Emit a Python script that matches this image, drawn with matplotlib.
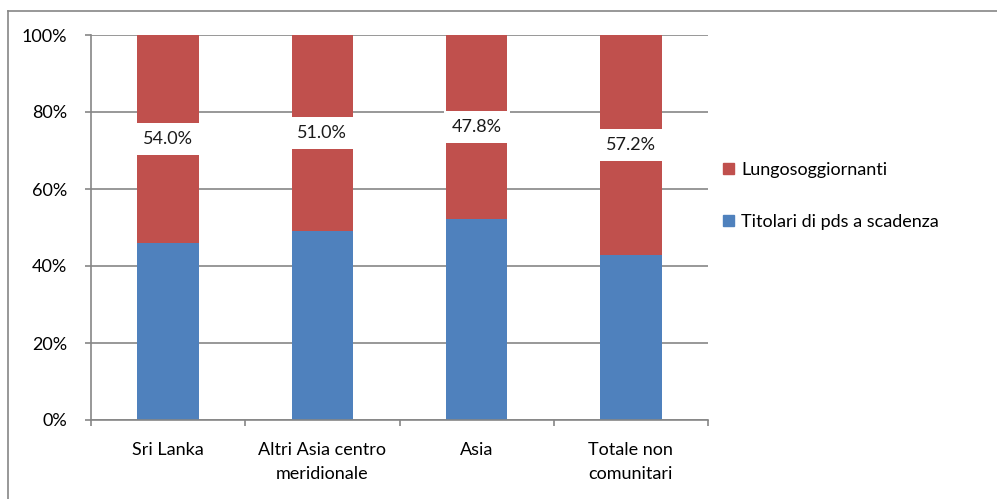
import numpy as np
import matplotlib.pyplot as plt
from matplotlib.lines import Line2D
from matplotlib.patches import Patch

plt.rcParams['font.family'] = ['Lato', 'DejaVu Sans']

#dati
categorie = ['Sri Lanka', 'Altri Asia centro\nmeridionale', 'Asia', 'Totale non\ncomunitari']
titolari = [46.0, 49.0, 52.2, 42.8]
lungo = [54.0, 51.0, 47.8, 57.2]
etichette = ['54.0%', '51.0%', '47.8%', '57.2%']

blu = '#4F81BD'
rosso = '#C0504D'
grigio = '#868686'
fs = 13

fig = plt.figure(figsize=(9.97, 4.99), dpi=100)
ax = fig.add_axes([91/997, 1-420/499, (708-91)/997, (420-35)/499])

x = np.arange(len(categorie))
w = 0.40
ax.bar(x, titolari, w, color=blu, zorder=2)
ax.bar(x, lungo, w, bottom=titolari, color=rosso, zorder=2)

# etichette con sfondo bianco al centro della parte rossa
for i in range(len(x)):
    ax.text(x[i], titolari[i] + lungo[i]/2, etichette[i], ha='center', va='center',
            fontsize=fs, color='#1a1a1a', zorder=3,
            bbox=dict(boxstyle='square,pad=0.45', fc='white', ec='none'))

ax.set_xlim(-0.5, len(x) - 0.5)
ax.set_ylim(0, 100)
ax.set_yticks(np.arange(0, 101, 20))
ax.set_yticklabels(['%d%%' % v for v in np.arange(0, 101, 20)])
ax.yaxis.grid(True, color=grigio, linewidth=1.2, zorder=0)
ax.set_axisbelow(True)

ax.set_xticks(x)
ax.set_xticklabels(categorie, linespacing=1.6)
ax.set_xticks(np.arange(-0.5, len(x), 1), minor=True)
ax.tick_params(axis='x', which='major', length=0, pad=16, labelsize=fs)
ax.tick_params(axis='x', which='minor', length=4, color=grigio, width=1.2)
ax.tick_params(axis='y', length=4, color=grigio, width=1.2, pad=13, labelsize=fs)

for s in ['top', 'right']:
    ax.spines[s].set_visible(False)
for s in ['left', 'bottom']:
    ax.spines[s].set_color(grigio)
    ax.spines[s].set_linewidth(1.2)

handles = [Patch(color=rosso), Patch(color=blu)]
fig.legend(handles, ['Lungosoggiornanti', 'Titolari di pds a scadenza'],
           loc='center left', bbox_to_anchor=(707/997, 1-196/499), frameon=False,
           fontsize=fs, handlelength=0.6, handleheight=0.6, handletextpad=0.4,
           labelspacing=2.0)

# cornice esterna
fig.add_artist(Line2D([8/997, 8/997], [0, 1-11/499], color=grigio, linewidth=1.2))
fig.add_artist(Line2D([8/997, 1], [1-11/499, 1-11/499], color=grigio, linewidth=1.2))

plt.savefig('out.png', dpi=100)
